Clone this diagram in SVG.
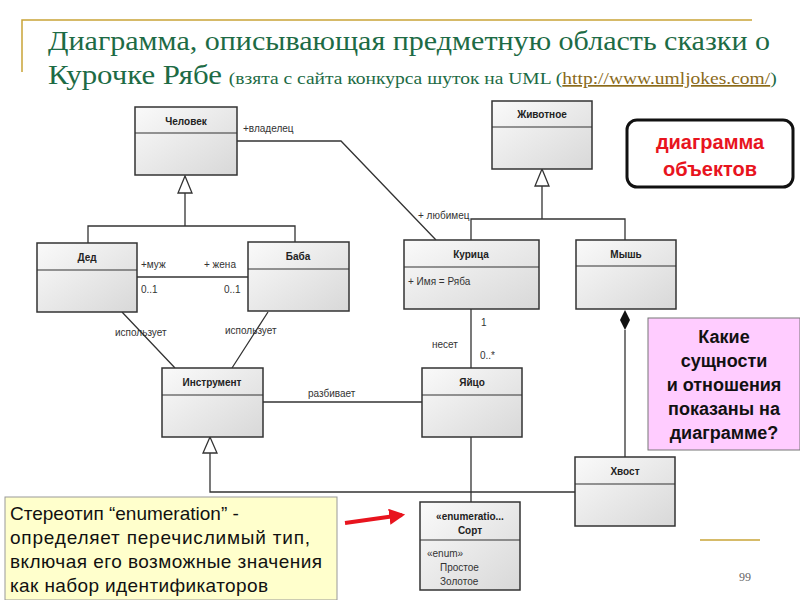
<svg xmlns="http://www.w3.org/2000/svg" width="800" height="600" viewBox="0 0 800 600">
<defs>
<linearGradient id="g" x1="0" y1="0" x2="1" y2="1"><stop offset="0" stop-color="#fafafa"/><stop offset="1" stop-color="#d8d8d8"/></linearGradient>
<marker id="ah" viewBox="0 0 10 10" refX="8" refY="5" markerWidth="4" markerHeight="4" orient="auto"><path d="M0,0 L10,5 L0,10 z" fill="#e8141e"/></marker>
</defs>
<style>
.c{fill:url(#g);stroke:#333;stroke-width:1.5}
.d{stroke:#333;stroke-width:1.2}
.n{font-family:"Liberation Sans",Arial,sans-serif;font-size:10px;font-weight:bold;fill:#222;text-anchor:middle}
.l{font-family:"Liberation Sans",Arial,sans-serif;font-size:10px;fill:#333}
.ln{fill:none;stroke:#333;stroke-width:1.3}
.tri{fill:#fff;stroke:#333;stroke-width:1.3}
.t{font-family:"Liberation Serif","Times New Roman",serif;fill:#1d6b45}
</style>
<rect width="800" height="600" fill="#fff"/>
<g id="title">
<path d="M22,72 V20 H752" fill="none" stroke="#c9a437" stroke-width="1.5"/>
<text class="t" x="48" y="50" font-size="27" textLength="722" lengthAdjust="spacingAndGlyphs">Диаграмма, описывающая предметную область сказки о</text>
<text class="t" x="48" y="84" font-size="27"><tspan textLength="174" lengthAdjust="spacingAndGlyphs">Курочке Рябе</tspan> <tspan font-size="17" textLength="548" lengthAdjust="spacingAndGlyphs">(взята с сайта конкурса шуток на UML (<tspan fill="#8a6a1a" text-decoration="underline">http://www.umljokes.com/</tspan>)</tspan></text>
</g>
<g id="connectors">
<path class="ln" d="M185,193 V226 M88,243 V226 H295 V242"/>
<path class="tri" d="M185,176 L178,193 L192,193 z"/>
<path class="ln" d="M137,277 H248"/>
<path class="ln" d="M122,312 L175,368 M268,312 L232,368"/>
<path class="ln" d="M263,402 H422"/>
<path class="ln" d="M210,453 V492 H575"/>
<path class="tri" d="M210,437 L203,453 L217,453 z"/>
<path class="ln" d="M237,141 H341 L436,240"/>
<path class="ln" d="M542,186 V219 M471,240 V219 H625 V240"/>
<path class="tri" d="M542,169 L535,186 L549,186 z"/>
<path class="ln" d="M471,309 V368 M471,437 V502"/>
<path class="ln" d="M625,330 V457"/>
<path d="M625,310 L630,320 L625,330 L620,320 z" fill="#111"/>
<text class="l" x="243" y="132">+владелец</text>
<text class="l" x="418" y="219">+ любимец</text>
<text class="l" x="141" y="268">+муж</text>
<text class="l" x="204" y="268">+ жена</text>
<text class="l" x="141" y="293">0..1</text>
<text class="l" x="224" y="293">0..1</text>
<text class="l" x="115" y="336">использует</text>
<text class="l" x="225" y="334">использует</text>
<text class="l" x="308" y="397">разбивает</text>
<text class="l" x="481" y="326">1</text>
<text class="l" x="432" y="348">несет</text>
<text class="l" x="480" y="359">0..*</text>
</g>
<g id="chelovek"><rect class="c" x="135" y="107" width="102" height="68"/><line class="d" x1="135" y1="133" x2="237" y2="133"/><text class="n" x="186" y="125">Человек</text></g>
<g id="ded"><rect class="c" x="37" y="243" width="100" height="69"/><line class="d" x1="37" y1="270" x2="137" y2="270"/><text class="n" x="87" y="261">Дед</text></g>
<g id="baba"><rect class="c" x="248" y="242" width="101" height="69"/><line class="d" x1="248" y1="269" x2="349" y2="269"/><text class="n" x="298" y="260">Баба</text></g>
<g id="instrument"><rect class="c" x="162" y="368" width="101" height="69"/><line class="d" x1="162" y1="395" x2="263" y2="395"/><text class="n" x="212" y="386">Инструмент</text></g>
<g id="zhivotnoe"><rect class="c" x="492" y="101" width="100" height="68"/><line class="d" x1="492" y1="127" x2="592" y2="127"/><text class="n" x="542" y="118">Животное</text></g>
<g id="kurica"><rect class="c" x="404" y="240" width="135" height="69"/><line class="d" x1="404" y1="267" x2="539" y2="267"/><text class="n" x="471" y="258">Курица</text><text class="l" x="408" y="285" fill="#777">+ Имя = Ряба</text></g>
<g id="mysh"><rect class="c" x="576" y="240" width="100" height="69"/><line class="d" x1="576" y1="266" x2="676" y2="266"/><text class="n" x="626" y="258">Мышь</text></g>
<g id="yaico"><rect class="c" x="422" y="368" width="100" height="69"/><line class="d" x1="422" y1="395" x2="522" y2="395"/><text class="n" x="472" y="386">Яйцо</text></g>
<g id="hvost"><rect class="c" x="575" y="457" width="100" height="69"/><line class="d" x1="575" y1="484" x2="675" y2="484"/><text class="n" x="625" y="475" font-weight="normal">Хвост</text></g>
<g id="sort"><rect class="c" x="420" y="502" width="100" height="88"/><line class="d" x1="420" y1="540" x2="520" y2="540"/>
<text class="n" x="470" y="520" font-weight="normal" font-size="9">«enumeratio...</text><text class="n" x="470" y="534" font-size="11" font-weight="normal">Сорт</text>
<text class="l" x="427" y="557" font-size="8" fill="#888">«enum»</text>
<text class="l" x="440" y="571" fill="#555" font-size="11">Простое</text><text class="l" x="440" y="585" fill="#555" font-size="11">Золотое</text></g>
<g id="obj"><rect x="627" y="120" width="166" height="67" rx="10" fill="#fff" stroke="#111" stroke-width="3"/>
<text x="710" y="149" font-family="'Liberation Sans',Arial,sans-serif" font-size="20" font-weight="bold" fill="#e8141e" text-anchor="middle">диаграмма</text>
<text x="710" y="176" font-family="'Liberation Sans',Arial,sans-serif" font-size="20" font-weight="bold" fill="#e8141e" text-anchor="middle">объектов</text></g>
<g id="question"><rect x="648" y="318" width="152" height="132" fill="#ffccff" stroke="#777"/>
<g font-family="'Liberation Sans',Arial,sans-serif" font-size="18" font-weight="bold" fill="#111" text-anchor="middle">
<text x="724" y="343">Какие</text><text x="724" y="367">сущности</text><text x="724" y="391">и отношения</text><text x="724" y="415">показаны на</text><text x="724" y="439">диаграмме?</text></g></g>
<g id="note"><rect x="5" y="497" width="332" height="103" fill="#ffffcc" stroke="#999"/>
<g font-family="'Liberation Sans',Arial,sans-serif" font-size="19" fill="#111">
<text x="10" y="520">Стереотип “enumeration” -</text><text x="10" y="544" textLength="300">определяет перечислимый тип,</text><text x="10" y="568" textLength="312">включая его возможные значения</text><text x="10" y="592" textLength="258">как набор идентификаторов</text></g></g>
<g id="arrow"><line x1="345" y1="523" x2="402" y2="515" stroke="#e8141e" stroke-width="4" marker-end="url(#ah)"/></g>
<g id="page"><line x1="700" y1="540" x2="760" y2="540" stroke="#c9a437" stroke-width="1.5"/><text x="745" y="581" font-family="'Liberation Serif',serif" font-size="12" fill="#666" text-anchor="middle">99</text></g>
</svg>
